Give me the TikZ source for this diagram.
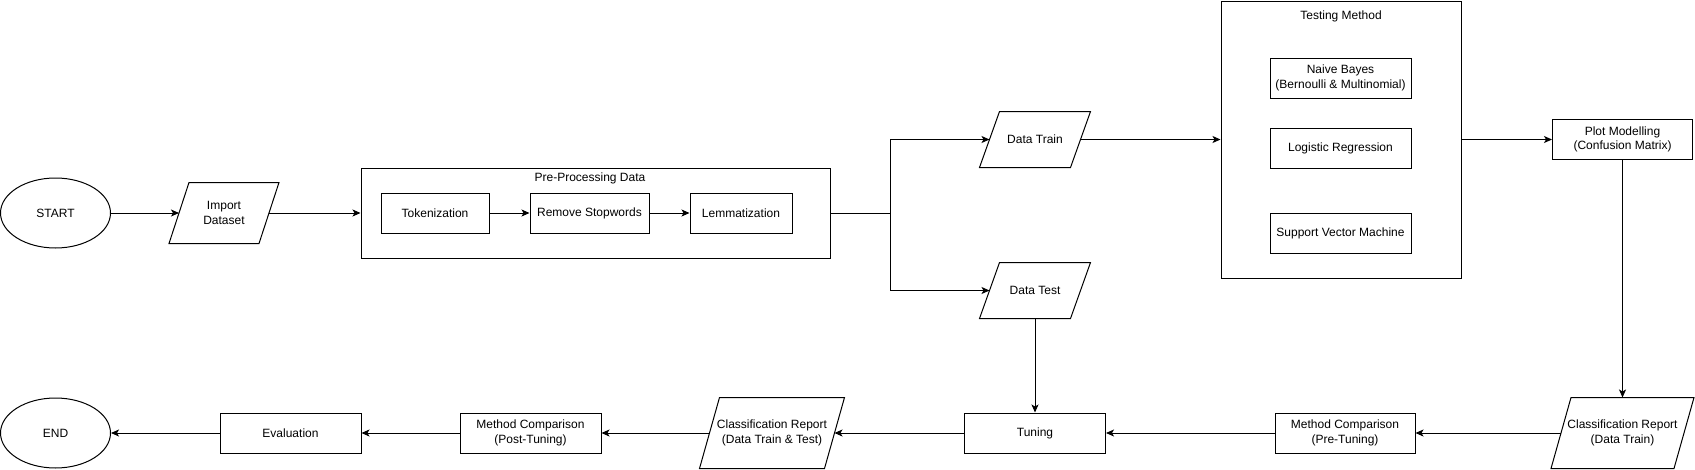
\documentclass[tikz,border=0pt]{standalone}
\usepackage{fontspec}
\setmainfont{Liberation Sans}
\usetikzlibrary{arrows.meta, positioning, shapes.geometric}

\begin{document}
\begin{tikzpicture}[x=1pt,y=-1pt,>={Stealth[length=8pt,width=7pt,inset=2pt]},line width=1pt,on grid,
    every node/.style={font=\fontsize{12}{14.5}\selectfont,align=center},
    termstyle/.style={draw,ellipse,minimum width=110pt,minimum height=70pt,inner sep=0pt},
    procstyle/.style={draw,rectangle,minimum height=40pt,inner sep=0pt},
    groupstyle/.style={draw,rectangle,inner sep=0pt},
    iostyle/.style={rectangle,inner sep=0pt,
        append after command={\pgfextra{\draw
            ([xshift=10pt]\tikzlastnode.north west) -- ([xshift=10pt]\tikzlastnode.north east) --
            ([xshift=-10pt]\tikzlastnode.south east) -- ([xshift=-10pt]\tikzlastnode.south west) -- cycle;}}}]
    \useasboundingbox (0,0) rectangle (1695,469);

    \node[termstyle] (Start) at (55.5,213) {START};
    \node[iostyle,minimum width=89pt,minimum height=60pt] (Import) at (224,213) {Import\\Dataset};

    \node[groupstyle,minimum width=469pt,minimum height=90pt] (Pre) at (595.5,213) {};
    \node (Pre_T) at (590,178) {Pre-Processing Data};
    \node[procstyle,minimum width=108pt] (Pre_Tok) at (435,213) {Tokenization};
    \node[procstyle,minimum width=119pt] (Pre_Rem) at (589.5,213) {Remove Stopwords};
    \node[procstyle,minimum width=102pt] (Pre_Lem) at (741,213) {Lemmatization};
    \coordinate (Split) at (890,213);

    \node[iostyle,minimum width=90pt,minimum height=55pt] (DTrain) at (1035,139.5) {Data Train};
    \node[iostyle,minimum width=90pt,minimum height=55pt] (DTest) [below=151pt of DTrain] {Data Test};

    \node[groupstyle,minimum width=240pt,minimum height=277pt] (Test) at (1341,139.5) {};
    \node (Test_T) at (1341,16) {Testing Method};
    \node[procstyle,minimum width=141pt] (Test_NB) at (1340.5,78) {Naive Bayes\\(Bernoulli \& Multinomial)};
    \node[procstyle,minimum width=141pt] (Test_LR) [below=70pt of Test_NB] {Logistic Regression};
    \node[procstyle,minimum width=141pt] (Test_SVM) [below=85pt of Test_LR] {Support Vector Machine};

    \node[procstyle,minimum width=140pt] (Plot) at (1622.5,139.5) {Plot Modelling\\(Confusion Matrix)};
    \node[iostyle,minimum width=122pt,minimum height=70pt] (Rep1) [below=293.5pt of Plot] {Classification Report\\(Data Train)};
    \node[procstyle,minimum width=140pt] (Cmp1) at (1345,433) {Method Comparison\\(Pre-Tuning)};
    \node[procstyle,minimum width=141pt] (Tune) at (1035,433) {Tuning};
    \node[iostyle,minimum width=124pt,minimum height=70pt] (Rep2) at (772,433) {Classification Report\\(Data Train \& Test)};
    \node[procstyle,minimum width=141pt] (Cmp2) at (530.5,433) {Method Comparison\\(Post-Tuning)};
    \node[procstyle,minimum width=141pt] (Eval) at (290.5,433) {Evaluation};
    \node[termstyle] (End) at (55.5,433) {END};

    \tikzset{flowstyle/.style={->}}
    \path (Start) edge [flowstyle] (Import);
    \path (Import) edge [flowstyle] (Pre);
    \path (Pre_Tok) edge [flowstyle] (Pre_Rem);
    \path (Pre_Rem) edge [flowstyle] (Pre_Lem);
    \draw [flowstyle] (Pre) -- (Split) |- (DTrain);
    \draw [flowstyle] (Split) |- (DTest);
    \path (DTrain) edge [flowstyle] (Test);
    \path (Test) edge [flowstyle] (Plot);
    \path (Plot) edge [flowstyle] (Rep1);
    \path (DTest) edge [flowstyle] (Tune);
    \path (Rep1) edge [flowstyle] (Cmp1);
    \path (Cmp1) edge [flowstyle] (Tune);
    \path (Tune) edge [flowstyle] (Rep2);
    \path (Rep2) edge [flowstyle] (Cmp2);
    \path (Cmp2) edge [flowstyle] (Eval);
    \path (Eval) edge [flowstyle] (End);

\end{tikzpicture}
\end{document}
